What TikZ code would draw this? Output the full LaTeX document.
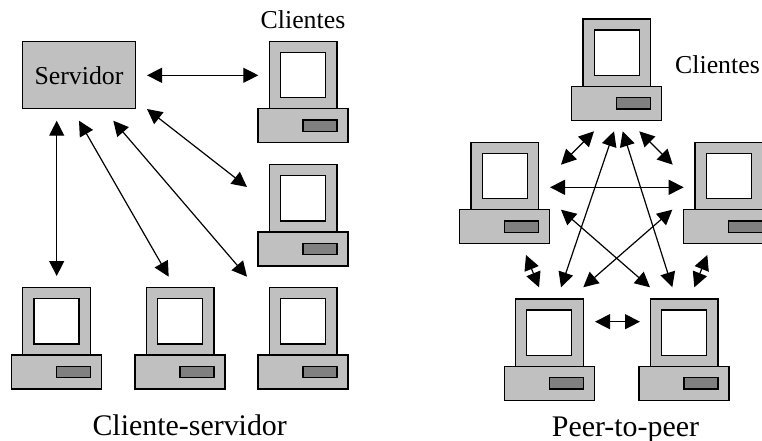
\documentclass[tikz,border=0pt]{standalone}
\usepackage{fontspec}
\setmainfont{Liberation Serif}
\usetikzlibrary{arrows.meta}
\tikzset{
  box/.style={draw=black,line width=1.3pt,anchor=north west,inner sep=0pt,outer sep=0pt,minimum width=#1},
  computer/.pic={
    \node[box=67.6pt,minimum height=67.4pt,fill=gray75] (-monitor) at (11.3,-67.4) {};
    \node[box=45pt,minimum height=45.4pt,fill=white] (-screen) at (22.5,-56.4) {};
    \node[box=90pt,minimum height=34pt,fill=gray75] (-base) at (0,0) {};
    \node[box=34pt,minimum height=11.3pt,fill=gray50] (-slot) at (45,11.3) {};
  },
  link/.style={line width=1.2pt,{Triangle[length=15pt,width=15pt]}-{Triangle[length=15pt,width=15pt]}},
  small/.style={font=\fontsize{25.8}{30}\selectfont,anchor=base,inner sep=0pt},
  big/.style={font=\fontsize{29.9}{34}\selectfont,anchor=base,inner sep=0pt}
}
\definecolor{gray75}{HTML}{C0C0C0}
\definecolor{gray50}{HTML}{808080}
\begin{document}
\begin{tikzpicture}[x=1pt,y=-1pt]
\useasboundingbox (0,0) rectangle (762,441);
% left: client-server
\node[box=112.6pt,minimum height=67.4pt,fill=gray75] (srv) at (22.7,41.3) {};
\node[small] (srvlabel) at (79,85) {Servidor};
\pic (a) at (258,108.7) {computer};
\pic (b) at (258,232) {computer};
\pic (c) at (11.5,355) {computer};
\pic (d) at (135,355) {computer};
\pic (e) at (258,355) {computer};
\node[small] (cl1) at (303,29) {Clientes};
\node[big] (cap1) at (189.7,435) {Cliente-servidor};
% right: peer-to-peer
\pic (p) at (571.7,86.3) {computer};
\pic (q) at (459.7,209.7) {computer};
\pic (r) at (683.7,209.7) {computer};
\pic (s) at (504.3,366.3) {computer};
\pic (t) at (639,366.3) {computer};
\node[small] (cl2) at (717.5,74) {Clientes};
\node[big] (cap2) at (625.5,436) {Peer-to-peer};
% connector ends
\coordinate (a1) at (147,75.3);   \coordinate (a2) at (258.3,75.3);
\coordinate (b1) at (147,109);    \coordinate (b2) at (247,187);
\coordinate (c1) at (56.7,120.7); \coordinate (c2) at (56.7,276);
\coordinate (d1) at (79,120.7);   \coordinate (d2) at (168.7,276.7);
\coordinate (e1) at (113.3,120.7);\coordinate (e2) at (247,276.7);
\coordinate (f1) at (594,131.3);  \coordinate (f2) at (561,164.7);
\coordinate (g1) at (639.3,131.3);\coordinate (g2) at (672.7,164.7);
\coordinate (h1) at (614,131.3);  \coordinate (h2) at (561,287.3);
\coordinate (i1) at (622.7,131.3);\coordinate (i2) at (672.3,287.3);
\coordinate (j1) at (550,187.3);  \coordinate (j2) at (683.7,187.3);
\coordinate (k1) at (561,209.7);  \coordinate (k2) at (650,287.3);
\coordinate (l1) at (672.3,209.7);\coordinate (l2) at (583.3,287.3);
\coordinate (m1) at (526,255);    \coordinate (m2) at (539,287.3);
\coordinate (n1) at (707.3,255);  \coordinate (n2) at (694.3,287.3);
\coordinate (o1) at (595,321.7);  \coordinate (o2) at (640,321.7);
\foreach \e in {a,...,o}{\draw[link] (\e1) -- (\e2);}
\end{tikzpicture}
\end{document}
